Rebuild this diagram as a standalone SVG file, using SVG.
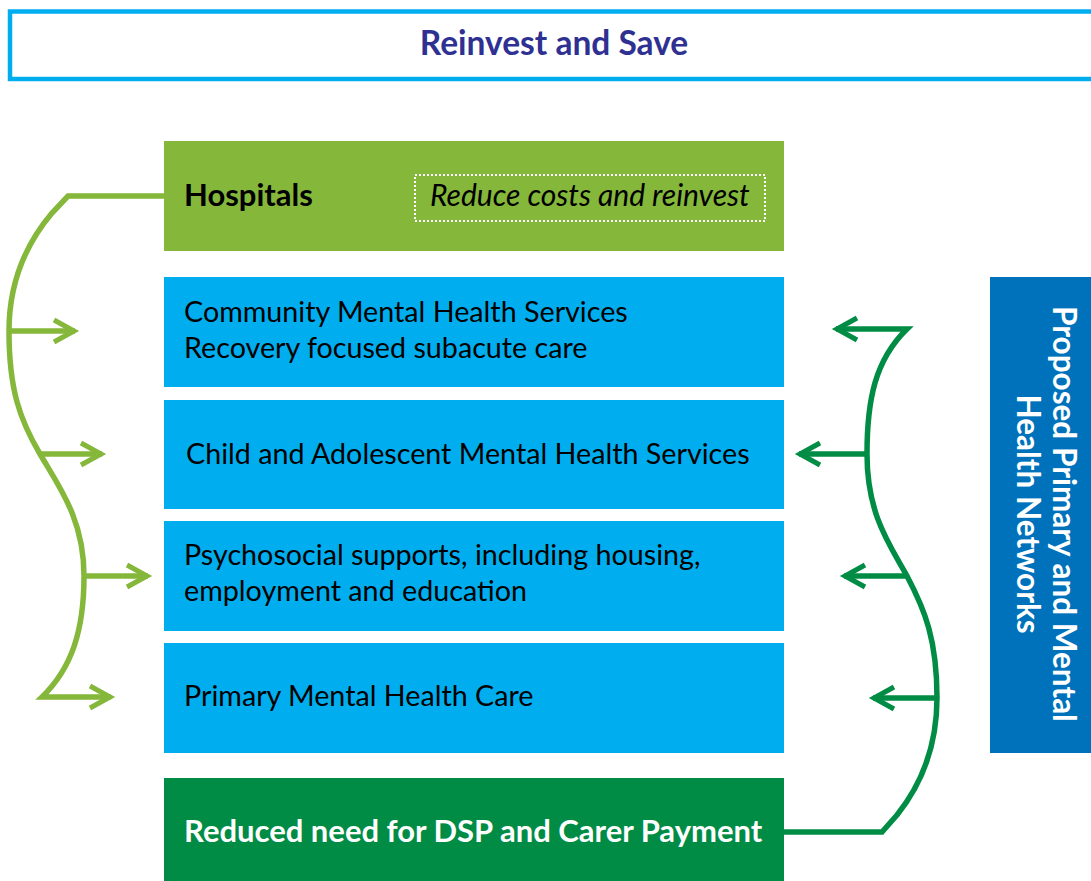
<svg xmlns="http://www.w3.org/2000/svg" width="1091" height="881" viewBox="0 0 1091 881">
<style>
.t{font-family:Lato,"Open Sans","Liberation Sans",sans-serif;font-size:28.7px;fill:#000}
.b{font-weight:bold;font-size:31px}
.w{fill:#fff}
.blue{fill:#00AEEF}
.lg{fill:none;stroke:#84B73A;stroke-width:5.5}
.dg{fill:none;stroke:#008C45;stroke-width:5.5}
</style>
<defs>
<marker id="chevL" markerUnits="userSpaceOnUse" markerWidth="40" markerHeight="40" viewBox="-30 -20 40 40" refX="0" refY="0" orient="auto" overflow="visible">
<path d="M-21,-11 L-1,0 L-21,11" fill="none" stroke="#84B73A" stroke-width="5"/>
</marker>
<marker id="chevD" markerUnits="userSpaceOnUse" markerWidth="40" markerHeight="40" viewBox="-30 -20 40 40" refX="0" refY="0" orient="auto" overflow="visible">
<path d="M-21,-11 L-1,0 L-21,11" fill="none" stroke="#008C45" stroke-width="5"/>
</marker>
</defs>
<rect width="1091" height="881" fill="#fff"/>
<g id="title">
<rect x="10" y="11.5" width="1090" height="67.5" fill="#fff" stroke="#00AEEF" stroke-width="4.5"/>
<text class="t b" x="554" y="55" text-anchor="middle" style="font-size:33.5px;fill:#2E3192">Reinvest and Save</text>
</g>
<g id="connectors">
<path class="lg" d="M164,196 L68,196 L52,213 C25,245 9,285 9,331 C9,390 20,420 40,454 C60,488 84,520 84,576 C84,630 72,668 42,697 L111,697" marker-end="url(#chevL)"/>
<path class="lg" d="M9,331 L75,331" marker-end="url(#chevL)"/>
<path class="lg" d="M40,454 L102,454" marker-end="url(#chevL)"/>
<path class="lg" d="M84,576 L148,576" marker-end="url(#chevL)"/>
<path class="dg" d="M784,832 L882,832 L897,815 C925,780 937,740 937,698 C937,640 925,610 907,576 C890,545 867,515 867,454 C867,400 875,360 907,329 L836,329" marker-end="url(#chevD)"/>
<path class="dg" d="M867,454 L799,454" marker-end="url(#chevD)"/>
<path class="dg" d="M907,576 L844,576" marker-end="url(#chevD)"/>
<path class="dg" d="M937,698 L873,698" marker-end="url(#chevD)"/>
</g>
<g id="hospitals">
<rect x="164" y="141" width="620" height="110" fill="#84B73A"/>
<text class="t b" x="184" y="206">Hospitals</text>
<rect x="415" y="175" width="350" height="46" fill="none" stroke="#fff" stroke-width="2" stroke-dasharray="2,2"/>
<text class="t" x="430" y="206" font-style="italic" style="font-size:30px">Reduce costs and reinvest</text>
</g>
<g id="community">
<rect class="blue" x="164" y="277" width="620" height="110"/>
<text class="t" x="184" y="322">Community Mental Health Services</text>
<text class="t" x="184" y="358">Recovery focused subacute care</text>
</g>
<g id="camhs">
<rect class="blue" x="164" y="400" width="620" height="109"/>
<text class="t" x="186" y="464">Child and Adolescent Mental Health Services</text>
</g>
<g id="psychosocial">
<rect class="blue" x="164" y="521" width="620" height="110"/>
<text class="t" x="184" y="565">Psychosocial supports, including housing,</text>
<text class="t" x="184" y="601">employment and education</text>
</g>
<g id="primary">
<rect class="blue" x="164" y="643" width="620" height="110"/>
<text class="t" x="184" y="706">Primary Mental Health Care</text>
</g>
<g id="dsp">
<rect x="164" y="778" width="620" height="103" fill="#008C45"/>
<text class="t b w" x="184" y="842">Reduced need for DSP and Carer Payment</text>
</g>
<g id="phn">
<rect x="990" y="277" width="101" height="476" fill="#0072BC"/>
<text class="t b w" transform="translate(1053,514) rotate(90)" text-anchor="middle" style="font-size:31.5px">Proposed Primary and Mental</text>
<text class="t b w" transform="translate(1017,514) rotate(90)" text-anchor="middle" style="font-size:31.5px">Health Networks</text>
</g>
</svg>
